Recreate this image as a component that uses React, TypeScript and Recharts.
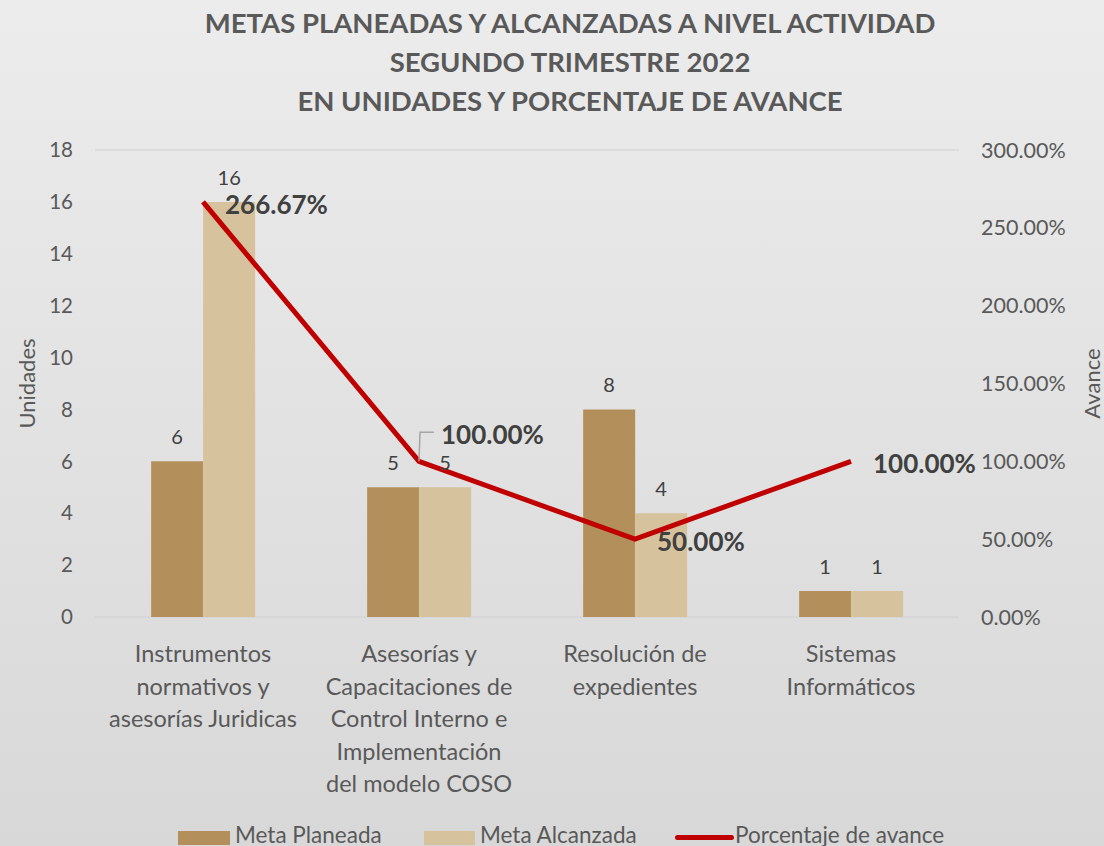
import { ComposedChart, Bar, Line, XAxis, YAxis, CartesianGrid, LabelList } from "recharts";

const categories = [
  "Instrumentos normativos y asesorías Juridicas",
  "Asesorías y Capacitaciones de Control Interno e Implementación del modelo COSO",
  "Resolución de expedientes",
  "Sistemas Informáticos",
];
const categoryLines = [
  ["Instrumentos", "normativos y", "asesorías Juridicas"],
  ["Asesorías y", "Capacitaciones de", "Control Interno e", "Implementación", "del modelo COSO"],
  ["Resolución de", "expedientes"],
  ["Sistemas", "Informáticos"],
];
const metaPlaneada = [6, 5, 8, 1];
const metaAlcanzada = [16, 5, 4, 1];
const porcentajeAvance = [2.6667, 1, 0.5, 1];
const leftTicks = [0, 2, 4, 6, 8, 10, 12, 14, 16, 18];
const rightTicks = [0, 0.5, 1, 1.5, 2, 2.5, 3];
const titleLines = [
  "METAS PLANEADAS Y ALCANZADAS A NIVEL ACTIVIDAD",
  "SEGUNDO TRIMESTRE 2022",
  "EN UNIDADES Y PORCENTAJE DE AVANCE",
];

const data = categories.map((name, i) => ({
  name,
  planeada: metaPlaneada[i],
  alcanzada: metaAlcanzada[i],
  avance: porcentajeAvance[i],
}));

const FONT = "Lato, 'Open Sans', sans-serif";
const GREY = "#595959";
const DARK = "#404040";
const C_PLAN = "#B38F5C";
const C_ALC = "#D6C29C";
const C_LINE = "#C00000";

const pct = (v: number) => (v * 100).toFixed(2) + "%";

function CategoryTick(props: any) {
  const { x, y, index } = props;
  const lines = categoryLines[index] || [];
  return (
    <text x={x} y={y} textAnchor="middle" fill={GREY} fontSize={23.5} fontFamily={FONT}>
      {lines.map((l, i) => (
        <tspan key={i} x={x} y={y + 43 + i * 32.5}>
          {l}
        </tspan>
      ))}
    </text>
  );
}

function AvanceLabel(props: any) {
  const { x, y, value, index } = props;
  const lifted = index === 1;
  const ty = lifted ? y - 27 : y + 2;
  return (
    <g>
      {lifted && (
        <polyline
          points={`${x},${y} ${x + 1},${y - 29} ${x + 15},${y - 29}`}
          fill="none"
          stroke="#a6a6a6"
          strokeWidth={1.5}
        />
      )}
      <text
        x={x + 22}
        y={ty}
        dominantBaseline="central"
        fill={DARK}
        fontSize={26}
        fontWeight={700}
        fontFamily={FONT}
      >
        {pct(value)}
      </text>
    </g>
  );
}

export default function App() {
  return (
    <div
      style={{
        position: "relative",
        width: 1104,
        height: 846,
        overflow: "hidden",
        background: "linear-gradient(#ececec, #d8d8d8)",
        fontFamily: FONT,
      }}
    >
      <style>{"body{margin:0}"}</style>
      <div
        style={{
          position: "absolute",
          left: 0,
          top: 3,
          width: 1140,
          textAlign: "center",
          color: GREY,
          fontWeight: 700,
          fontSize: 27.5,
          lineHeight: "39px",
        }}
      >
        {titleLines.map((t) => (
          <div key={t}>{t}</div>
        ))}
      </div>
      <ComposedChart
        width={1104}
        height={846}
        data={data}
        margin={{ top: 150, right: 0, bottom: 0, left: 0 }}
        barCategoryGap="26%"
        barGap={0}
      >
        <CartesianGrid vertical={false} stroke="#d0d0d0" />
        <XAxis
          dataKey="name"
          height={229}
          axisLine={false}
          tickLine={false}
          tickSize={0}
          interval={0}
          tick={CategoryTick}
        />
        <YAxis
          yAxisId="left"
          width={95}
          domain={[0, 18]}
          ticks={leftTicks}
          axisLine={false}
          tickLine={false}
          tickSize={0}
          tickMargin={22}
          tick={{ fill: GREY, fontSize: 20.5, fontFamily: FONT }}
          label={{
            value: "Unidades",
            angle: -90,
            position: "insideLeft",
            offset: 27,
            fill: GREY,
            fontSize: 22,
            fontFamily: FONT,
            style: { textAnchor: "middle" },
          }}
        />
        <YAxis
          yAxisId="right"
          orientation="right"
          width={145}
          domain={[0, 3]}
          ticks={rightTicks}
          tickFormatter={pct}
          axisLine={false}
          tickLine={false}
          tickSize={0}
          tickMargin={22}
          tick={{ fill: GREY, fontSize: 21.5, fontFamily: FONT }}
          label={{
            value: "Avance",
            angle: -90,
            position: "insideRight",
            offset: 12,
            fill: GREY,
            fontSize: 22,
            fontFamily: FONT,
            style: { textAnchor: "middle" },
          }}
        />
        <Bar yAxisId="left" dataKey="planeada" fill={C_PLAN} isAnimationActive={false}>
          <LabelList dataKey="planeada" position="top" offset={17} fill={DARK} fontSize={20} fontFamily={FONT} />
        </Bar>
        <Bar yAxisId="left" dataKey="alcanzada" fill={C_ALC} isAnimationActive={false}>
          <LabelList dataKey="alcanzada" position="top" offset={17} fill={DARK} fontSize={20} fontFamily={FONT} />
        </Bar>
        <Line
          yAxisId="right"
          type="linear"
          dataKey="avance"
          stroke={C_LINE}
          strokeWidth={5}
          dot={false}
          activeDot={false}
          isAnimationActive={false}
        >
          <LabelList dataKey="avance" content={AvanceLabel} />
        </Line>
      </ComposedChart>
      <div
        style={{
          position: "absolute",
          top: 821,
          left: 0,
          width: 1104,
          height: 26,
          color: GREY,
          fontSize: 22.5,
        }}
      >
        <span style={{ position: "absolute", left: 178, top: 10, width: 52, height: 14, background: C_PLAN }} />
        <span style={{ position: "absolute", left: 235, top: 0, whiteSpace: "nowrap" }}>Meta Planeada</span>
        <span style={{ position: "absolute", left: 424, top: 10, width: 51, height: 14, background: C_ALC }} />
        <span style={{ position: "absolute", left: 480, top: 0, whiteSpace: "nowrap" }}>Meta Alcanzada</span>
        <span
          style={{ position: "absolute", left: 675, top: 14, width: 59, height: 5, borderRadius: 3, background: C_LINE }}
        />
        <span style={{ position: "absolute", left: 735, top: 0, whiteSpace: "nowrap" }}>Porcentaje de avance</span>
      </div>
    </div>
  );
}
